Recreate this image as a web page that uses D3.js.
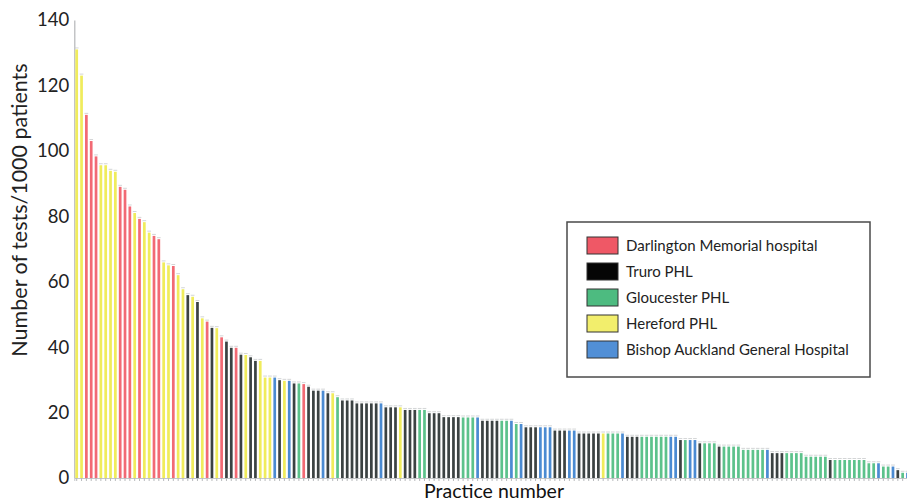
<!DOCTYPE html>
<html>
<head>
<meta charset="utf-8">
<script src="https://cdn.jsdelivr.net/npm/d3@7"></script>
<style>
  body { margin: 0; background: #fff; }
  svg { display: block; font-family: Lato, "Open Sans", sans-serif; }
</style>
</head>
<body>
<div class="chart"></div>
<script>
// hospital codes: R Darlington, K Truro, G Gloucester, Y Hereford, B Bishop Auckland
const labs = ['R', 'K', 'G', 'Y', 'B'];
const labNames = [
  'Darlington Memorial hospital',
  'Truro PHL',
  'Gloucester PHL',
  'Hereford PHL',
  'Bishop Auckland General Hospital'
];
const barColors = ['#f26a74', '#3b4242', '#5cc28b', '#f0ec5c', '#4b8bd2'];
const swatchColors = ['#ef5866', '#050505', '#4dbb80', '#f2ee6c', '#518fd6'];

const practiceLab = [
  'Y','Y','R','R','R','Y','Y','Y','Y','R',
  'R','R','Y','R','Y','Y','R','R','Y','Y',
  'R','Y','Y','K','Y','K','Y','R','K','Y',
  'R','K','K','R','K','Y','K','K','Y','Y',
  'Y','B','K','Y','B','K','G','R','K','K',
  'K','B','K','Y','G','K','K','K','K','K',
  'K','K','K','B','K','K','K','Y','K','K',
  'K','G','G','K','K','K','K','K','K','K',
  'G','G','G','B','K','K','K','K','G','G',
  'B','G','B','K','K','K','B','B','B','K',
  'K','K','B','B','K','K','K','K','K','Y',
  'G','G','G','B','K','K','K','G','G','G',
  'G','G','G','B','B','K','G','B','B','K',
  'G','G','G','K','G','G','G','G','G','G',
  'G','G','G','B','K','K','K','G','G','G',
  'G','G','G','G','G','G','K','G','G','G',
  'G','G','G','G','G','G','B','G','G','B',
  'K','G','B'
];
const testsPer1000 = [
  131, 123, 111, 103, 98.3, 95.6, 95.6, 93.9, 93.6, 89,
  88.1, 83, 81, 79.2, 78.2, 75, 74, 73, 65.9, 65,
  64.8, 62, 57.7, 55.9, 55.4, 53.8, 48.8, 47.8, 45.9, 45.8,
  43, 41.7, 39.8, 39.8, 37.7, 37.6, 36.9, 35.8, 35.8, 30.7,
  30.7, 30.7, 29.9, 29.7, 29.7, 28.9, 28.9, 28.7, 27.9, 26.7,
  26.7, 26.7, 25.9, 25.9, 24.7, 23.7, 23.7, 23.7, 22.8, 22.8,
  22.8, 22.8, 22.8, 22.8, 21.6, 21.6, 21.6, 21.6, 20.8, 20.8,
  20.8, 20.8, 20.8, 19.8, 19.8, 19.8, 18.6, 18.6, 18.6, 18.6,
  18.5, 18.5, 18.5, 18.5, 17.5, 17.5, 17.5, 17.5, 17.5, 17.5,
  17.5, 16.5, 16.5, 15.5, 15.5, 15.5, 15.5, 15.5, 15.5, 14.5,
  14.5, 14.5, 14.5, 14.5, 13.6, 13.6, 13.6, 13.6, 13.6, 13.6,
  13.6, 13.6, 13.6, 13.6, 12.6, 12.6, 12.6, 12.6, 12.6, 12.6,
  12.6, 12.6, 12.6, 12.6, 12.6, 11.6, 11.6, 11.6, 11.6, 10.6,
  10.6, 10.6, 10.6, 9.6, 9.6, 9.6, 9.6, 9.6, 8.6, 8.6,
  8.6, 8.6, 8.6, 8.6, 7.6, 7.6, 7.6, 7.6, 7.6, 7.6,
  7.6, 6.5, 6.5, 6.5, 6.5, 6.5, 5.5, 5.5, 5.5, 5.5,
  5.5, 5.5, 5.5, 5.5, 4.5, 4.5, 4.5, 3.5, 3.5, 3.5,
  2.4, 1.6, 1.6
];
const yTicks = [0, 20, 40, 60, 80, 100, 120, 140];

const data = testsPer1000.map((v, i) => ({ practice: i + 1, value: v, lab: practiceLab[i] }));

const w = 907;
const h = 501;
const padding = { top: 20, bottom: 23, left: 74.3 };

const xScale = d3.scaleBand()
  .domain(data.map((d) => d.practice))
  .range([padding.left, padding.left + data.length * 4.83])
  .paddingInner(0.44)
  .paddingOuter(0.22);
const yScale = d3.scaleLinear()
  .domain([0, 140])
  .range([h - padding.bottom, padding.top]);
const colorScale = d3.scaleOrdinal().domain(labs).range(barColors);

const svg = d3.select('.chart')
  .append('svg')
  .attr('width', w)
  .attr('height', h);

// x axis: just the baseline and little tick marks under each practice
const xAxis = svg.append('g')
  .attr('transform', `translate(0, ${yScale(0)})`)
  .call(d3.axisBottom(xScale).tickSize(3).tickFormat(''));
xAxis.select('.domain').attr('stroke', '#c4c6c8');
xAxis.selectAll('.tick line').attr('stroke', '#b8babc');

const yAxis = svg.append('g')
  .attr('transform', `translate(${padding.left}, 0)`)
  .call(d3.axisLeft(yScale).tickValues(yTicks).tickSize(0).tickPadding(5));
yAxis.select('.domain').attr('stroke', '#b4b6b8').attr('stroke-width', 1.2);
yAxis.selectAll('.tick text')
  .attr('font-family', 'Lato, sans-serif')
  .attr('font-size', 18.5)
  .attr('fill', '#222');

// small error caps above the bars
svg.append('g')
  .selectAll('line')
  .data(data)
  .enter()
  .append('line')
  .attr('x1', (d) => xScale(d.practice) - 0.5)
  .attr('x2', (d) => xScale(d.practice) + xScale.bandwidth() + 0.5)
  .attr('y1', (d) => yScale(d.value) - 1.5)
  .attr('y2', (d) => yScale(d.value) - 1.5)
  .attr('stroke', '#c8cacc')
  .attr('stroke-width', 0.8);

svg.append('g')
  .selectAll('rect')
  .data(data)
  .enter()
  .append('rect')
  .attr('x', (d) => xScale(d.practice))
  .attr('y', (d) => yScale(d.value))
  .attr('width', xScale.bandwidth())
  .attr('height', (d) => yScale(0) - yScale(d.value))
  .attr('fill', (d) => colorScale(d.lab));

svg.append('text')
  .attr('transform', 'translate(27, 210) rotate(-90)')
  .attr('text-anchor', 'middle')
  .attr('font-size', 21.5)
  .attr('fill', '#222')
  .text('Number of tests/1000 patients');

svg.append('text')
  .attr('x', 494)
  .attr('y', 498)
  .attr('text-anchor', 'middle')
  .attr('font-size', 19.5)
  .attr('fill', '#111')
  .text('Practice number');

const legend = svg.append('g')
  .attr('class', 'legend')
  .attr('transform', 'translate(567, 222)');

legend.append('rect')
  .attr('width', 303)
  .attr('height', 155)
  .attr('fill', '#fff')
  .attr('stroke', '#4a4a4a')
  .attr('stroke-width', 1.5);

legend.selectAll('rect.swatch')
  .data(labs)
  .enter()
  .append('rect')
  .attr('class', 'swatch')
  .attr('x', 20)
  .attr('y', (d, i) => 15 + i * 26)
  .attr('width', 31)
  .attr('height', 17)
  .attr('fill', (d, i) => swatchColors[i])
  .attr('stroke', '#333')
  .attr('stroke-width', 1);

legend.selectAll('text')
  .data(labNames)
  .enter()
  .append('text')
  .attr('x', 59)
  .attr('y', (d, i) => 29 + i * 26)
  .attr('font-size', 15)
  .attr('fill', '#222')
  .text((d) => d);
</script>
</body>
</html>
